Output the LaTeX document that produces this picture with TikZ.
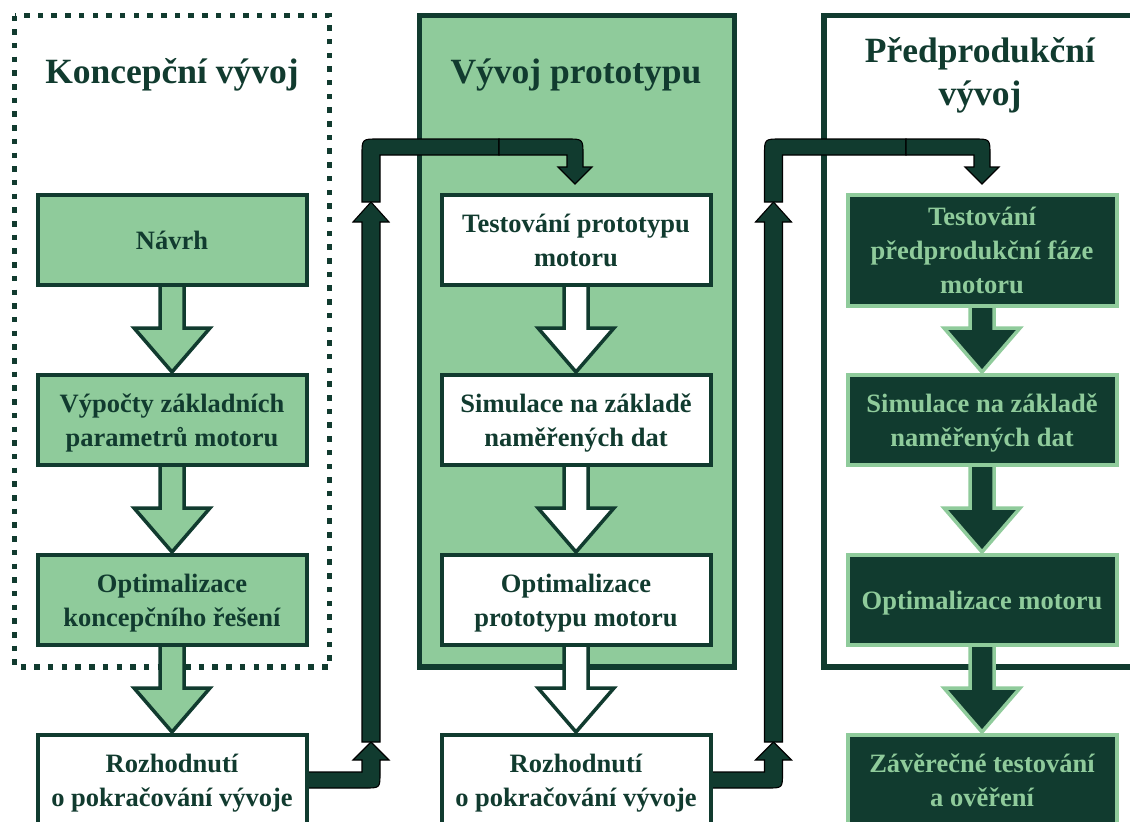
\documentclass[tikz,border=0pt]{standalone}
\usepackage{fontspec}
\setmainfont{Liberation Serif}
\usetikzlibrary{calc}
\definecolor{dk}{HTML}{113B2F}
\definecolor{lt}{HTML}{8FCB9B}
\pgfdeclarelayer{back}
\pgfdeclarelayer{arrows}
\pgfsetlayers{back,arrows,main}
\newcommand\boxfont{\fontsize{26.5}{34}\selectfont\bfseries}
\newcommand\titlefont{\fontsize{35.5}{43}\selectfont\bfseries}
\newcommand\lnstrut{\rule[-6pt]{0pt}{30pt}}
% block arrow from node #1 down to node #2, style #3
\newcommand\blk[3]{\filldraw[#3] ($(#1.south)+(-12,-2)$) -- ($(#2.north)+(-12,-45)$) -- ($(#2.north)+(-38,-45)$) -- ($(#2.north)+(0,-1)$) -- ($(#2.north)+(38,-45)$) -- ($(#2.north)+(12,-45)$) -- ($(#1.south)+(12,-2)$);}
% bent flow: #1 source x, #2 vertical centre x, #3 target centre x
\newcommand\bendflow[3]{%
 \filldraw[flowshape] (#1,772) -- ({#2-9},772) -- ({#2-9},760) -- ({#2-18},760) -- (#2,742) -- ({#2+18},760) -- ({#2+9},760) -- ({#2+9},773) .. controls ({#2+9},788) .. ({#2-6},788) -- (#1,788) -- cycle;
 \filldraw[flowshape] ({#2-9},742) -- ({#2-9},222) -- ({#2-18},222) -- (#2,202) -- ({#2+18},222) -- ({#2+9},222) -- ({#2+9},742) -- cycle;
 \filldraw[flowshape] ({#2-9},202) -- ({#2-9},155) .. controls ({#2-9},139) .. ({#2+7},139) -- ({#3-76},139) -- ({#3-76},155) -- ({#2+9},155) -- ({#2+9},202) -- cycle;
 \filldraw[flowshape] ({#3-76},139) -- ({#3-8},139) .. controls ({#3+8},139) .. ({#3+8},155) -- ({#3+8},167) -- ({#3+17},167) -- (#3,184) -- ({#3-17},167) -- ({#3-8},167) -- ({#3-8},155) -- ({#3-76},155) -- cycle;}
\begin{document}
\begin{tikzpicture}[x=1pt,y=-1pt,
 box/.style={draw, line width=4pt, minimum width=269pt, minimum height=90pt, align=center, font=\boxfont, inner sep=0pt},
 lbox/.style={box, draw=dk, fill=lt, text=dk},
 mbox/.style={box, draw=dk, fill=white, text=dk},
 rbox/.style={box, draw=lt, fill=dk, text=lt},
 title/.style={font=\titlefont, text=dk, align=center, inner sep=0pt},
 larr/.style={draw=dk, fill=lt, line width=3.5pt},
 marr/.style={draw=dk, fill=white, line width=3.5pt},
 rarr/.style={draw=lt, fill=dk, line width=3.5pt},
 flowshape/.style={fill=dk, draw=black, line width=1.1pt, line join=miter}]
\clip (0,0) rectangle (1130,822);
% group frames
\begin{pgfonlayer}{back}
\fill[white] (0,0) rectangle (1130,822);
\draw[dk, line width=5.5pt, dash pattern=on 5.5pt off 8.2pt] (14.5,15.5) rectangle (329.5,667);
\draw[draw=dk, fill=lt, line width=5.5pt] (419.5,15.5) rectangle (734.5,667);
\draw[dk, line width=5.5pt] (824,15.5) rectangle (1150,667);
\end{pgfonlayer}
% titles
\node[title, anchor=base] (t1) at (172,83) {Koncepční vývoj};
\node[title, anchor=base] (t2) at (576,83) {Vývoj prototypu};
\node[title, anchor=base] (t3) at (980,62) {Předprodukční};
\node[title, anchor=base] (t3b) at (980,105) {vývoj};
% boxes
\node[lbox] (a1) at (172,240) {\lnstrut Návrh};
\node[lbox] (a2) at (172,420) {\lnstrut Výpočty základních\\\lnstrut parametrů motoru};
\node[lbox] (a3) at (172,600) {\lnstrut Optimalizace\\\lnstrut koncepčního řešení};
\node[mbox] (a4) at (172,780) {\lnstrut Rozhodnutí\\\lnstrut o pokračování vývoje};
\node[mbox] (b1) at (576,240) {\lnstrut Testování prototypu\\\lnstrut motoru};
\node[mbox] (b2) at (576,420) {\lnstrut Simulace na základě\\\lnstrut naměřených dat};
\node[mbox] (b3) at (576,600) {\lnstrut Optimalizace\\\lnstrut prototypu motoru};
\node[mbox] (b4) at (576,780) {\lnstrut Rozhodnutí\\\lnstrut o pokračování vývoje};
\node[rbox, minimum height=111pt] (c1) at (982,250.5) {\lnstrut Testování\\\lnstrut předprodukční fáze\\\lnstrut motoru};
\node[rbox] (c2) at (982,420) {\lnstrut Simulace na základě\\\lnstrut naměřených dat};
\node[rbox] (c3) at (982,600) {\lnstrut Optimalizace motoru};
\node[rbox] (c4) at (982,780) {\lnstrut Závěrečné testování\\\lnstrut a ověření};
% arrows
\begin{pgfonlayer}{arrows}
\blk{a1}{a2}{larr}
\blk{a2}{a3}{larr}
\blk{a3}{a4}{larr}
\blk{b1}{b2}{marr}
\blk{b2}{b3}{marr}
\blk{b3}{b4}{marr}
\blk{c1}{c2}{rarr}
\blk{c2}{c3}{rarr}
\blk{c3}{c4}{rarr}
\bendflow{306}{371}{575}
\bendflow{710}{773.5}{982}
\end{pgfonlayer}
\end{tikzpicture}
\end{document}
